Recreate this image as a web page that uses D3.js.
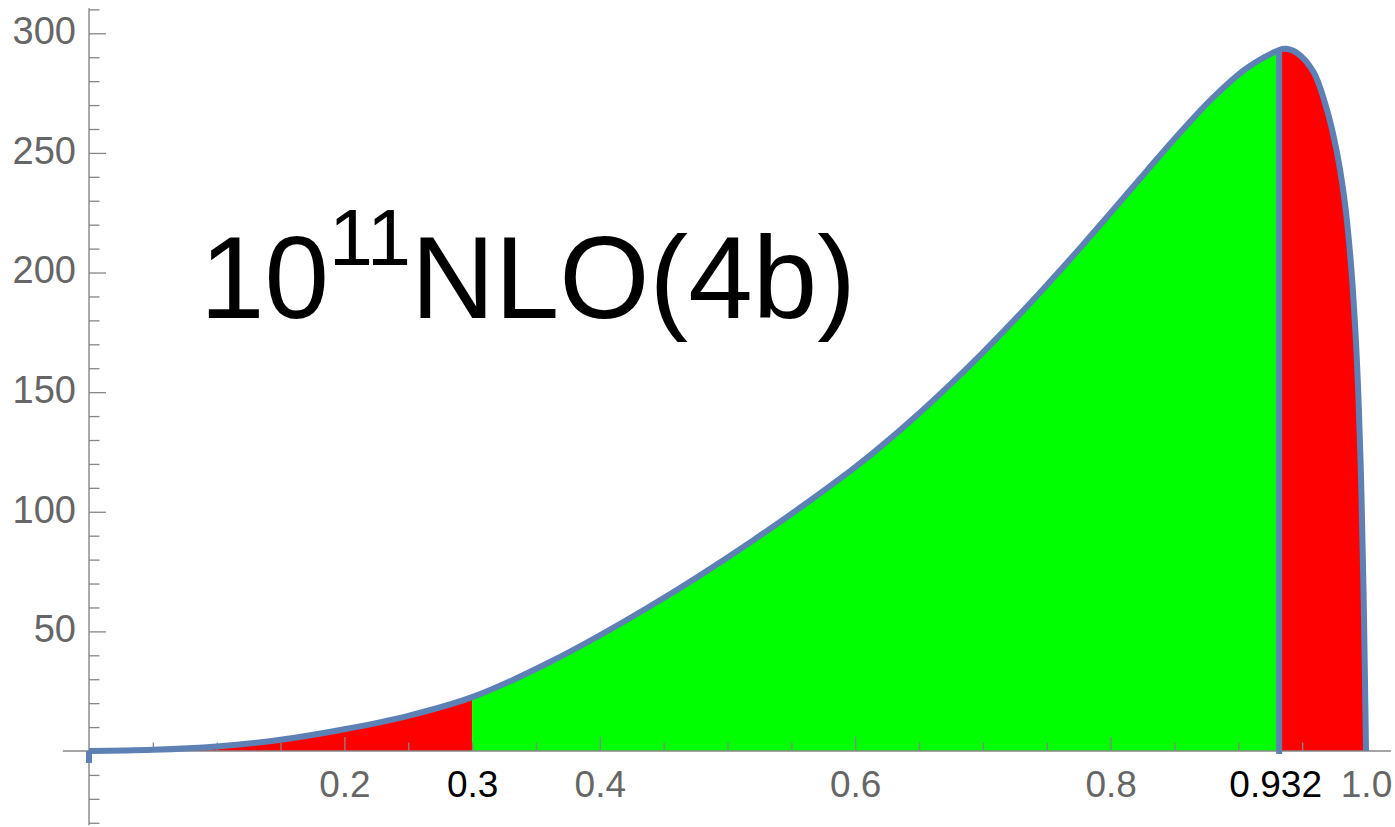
<!DOCTYPE html>
<html>
<head>
<meta charset="utf-8">
<script src="https://cdn.jsdelivr.net/npm/d3@7"></script>
<style>
  html, body { margin: 0; padding: 0; background: #fff; }
  svg { display: block; }
  text { font-family: "Liberation Sans", Arial, Helvetica, sans-serif; }
</style>
</head>
<body>
<svg id="chart" width="1395" height="827"></svg>
<script>
// ---- data ----
const xs = [0, 0.05, 0.1, 0.15, 0.2, 0.25, 0.3, 0.361, 0.439, 0.518, 0.596, 0.619, 0.646, 0.672, 0.698, 0.724, 0.750, 0.776, 0.802, 0.828, 0.854, 0.880, 0.906, 0.932, 0.937, 0.946, 0.9588, 0.9694, 0.9772, 0.9831, 0.9877, 0.9915, 0.9941, 0.9964, 0.9980, 0.9992, 1.0];
const ys = [0, 0.5, 1.9, 4.7, 9.1, 14.7, 22.5, 37.2, 60.4, 87.3, 117.0, 126.8, 139.2, 152.0, 165.5, 179.8, 194.7, 210.2, 226.2, 242.3, 258.2, 273.0, 285.2, 293.0, 293.5, 291.8, 283.9, 268.1, 250.4, 230.7, 207.0, 177.4, 147.9, 108.4, 69.0, 29.7, 0];
const startDip = -5;                 // small blue drop at x = 0
const lowCut = 0.3;                  // red -> green boundary
const highCut = 0.932;               // green -> red boundary
const xMajorTicks = [0.2, 0.4, 0.6, 0.8, 1.0];
const xMinorTicks = [0.05, 0.1, 0.15, 0.25, 0.3, 0.35, 0.45, 0.5, 0.55, 0.65, 0.7, 0.75, 0.85, 0.9, 0.95];
const xLabelsGray = [0.2, 0.4, 0.6, 0.8, 1.0];
const xLabelsBlack = [0.3, 0.932];
const yMajorTicks = [50, 100, 150, 200, 250, 300];
const yMinorTicks = [-30, -20, -10, 10, 20, 30, 40, 60, 70, 80, 90, 110, 120, 130, 140, 160, 170, 180, 190, 210, 220, 230, 240, 260, 270, 280, 290, 310];
const xAxisExtent = [-0.0205, 1.0195];
const yAxisExtent = [-31, 310.5];
const titleMain = "10";
const titleSup = "11";
const titleRest = "NLO(4b)";

// ---- drawing ----
const svg = d3.select("#chart");
const x = d3.scaleLinear().domain([0, 1]).range([89, 1366]);
const y = d3.scaleLinear().domain([0, 300]).range([751, 33.3]);

const data = xs.map((v, i) => ({ x: v, y: ys[i] }));
const BLUE = "#5E81B5";
const AXIS = "#868686";
const LABEL = "#666666";
const FONT = '"Liberation Sans", Arial, sans-serif';
const CURVE = d3.curveCatmullRom.alpha(0.5);

const defs = svg.append("defs");
function clip(id, a, b) {
  defs.append("clipPath").attr("id", id).append("rect")
    .attr("x", x(a)).attr("width", x(b) - x(a))
    .attr("y", 0).attr("height", 827);
}
clip("c1", -0.05, lowCut);
clip("c2", lowCut, highCut);
clip("c3", highCut, 1.05);

const area = d3.area().x(d => x(d.x)).y0(y(0)).y1(d => y(d.y)).curve(CURVE);
const line = d3.line().x(d => x(d.x)).y(d => y(d.y)).curve(CURVE);

svg.append("path").datum(data).attr("d", area).attr("fill", "#FF0000").attr("clip-path", "url(#c1)");
svg.append("path").datum(data).attr("d", area).attr("fill", "#00FF00").attr("clip-path", "url(#c2)");
svg.append("path").datum(data).attr("d", area).attr("fill", "#FF0000").attr("clip-path", "url(#c3)");

// ---- axes ----
const yAxisG = svg.append("g").attr("transform", `translate(${x(0)},0)`);
yAxisG.append("line").attr("x1", 0).attr("x2", 0)
  .attr("y1", y(yAxisExtent[0])).attr("y2", y(yAxisExtent[1]))
  .attr("stroke", AXIS).attr("stroke-width", 1.4);
const yMinor = yAxisG.append("g").call(d3.axisRight(y).tickValues(yMinorTicks).tickSize(10.5).tickFormat(""));
const yMajor = yAxisG.append("g").call(d3.axisRight(y).tickValues(yMajorTicks).tickSize(17).tickFormat(""));
const yLab = yAxisG.append("g").call(d3.axisLeft(y).tickValues(yMajorTicks).tickSize(0).tickPadding(13).tickFormat(d3.format("d")));
[yMinor, yMajor, yLab].forEach(g => { g.select(".domain").remove(); g.selectAll("line").attr("stroke", AXIS).attr("stroke-width", 1.3); });
yLab.selectAll("text").attr("fill", LABEL).attr("font-size", 38).attr("dy", "0.27em").style("font-family", FONT);

const xAxisG = svg.append("g").attr("transform", `translate(0,${y(0)})`);
xAxisG.append("line").attr("y1", 0).attr("y2", 0)
  .attr("x1", x(xAxisExtent[0])).attr("x2", x(xAxisExtent[1]))
  .attr("stroke", AXIS).attr("stroke-width", 1.4);
const xMinor = xAxisG.append("g").call(d3.axisTop(x).tickValues(xMinorTicks).tickSize(8.5).tickFormat(""));
const xMajor = xAxisG.append("g").call(d3.axisTop(x).tickValues(xMajorTicks).tickSize(14).tickFormat(""));
const xLabG = xAxisG.append("g").call(d3.axisBottom(x).tickValues(xLabelsGray).tickSize(0).tickPadding(20).tickFormat(d3.format(".1f")));
const xLabB = xAxisG.append("g").call(d3.axisBottom(x).tickValues(xLabelsBlack).tickSize(0).tickPadding(20).tickFormat(d => String(d)));
[xMinor, xMajor, xLabG, xLabB].forEach(g => { g.select(".domain").remove(); g.selectAll("line").attr("stroke", AXIS).attr("stroke-width", 1.3); });
xLabG.selectAll("text").attr("fill", LABEL).attr("font-size", 37).style("font-family", FONT);
xLabB.selectAll("text").attr("fill", "#000").attr("font-size", 37).style("font-family", FONT);
xLabB.selectAll(".tick").filter(d => d === highCut).select("text").attr("dx", -4);

// ---- curve and markers ----
const highVal = ys[xs.indexOf(highCut)];
svg.append("line")
  .attr("x1", x(highCut)).attr("x2", x(highCut))
  .attr("y1", y(0) + 3).attr("y2", y(highVal))
  .attr("stroke", BLUE).attr("stroke-width", 6);
svg.append("line")
  .attr("x1", x(0)).attr("x2", x(0))
  .attr("y1", y(0)).attr("y2", y(startDip))
  .attr("stroke", BLUE).attr("stroke-width", 6);
svg.append("path").datum(data).attr("d", line)
  .attr("fill", "none").attr("stroke", BLUE).attr("stroke-width", 6)
  .attr("stroke-linejoin", "round");

// ---- title ----
const t = svg.append("text").attr("x", 200).attr("y", 318).attr("font-size", 116).attr("fill", "#000");
t.append("tspan").text(titleMain);
t.append("tspan").attr("font-size", 79).attr("dy", -53).text(titleSup);
t.append("tspan").attr("font-size", 116).attr("dy", 53).text(titleRest);
</script>
</body>
</html>
